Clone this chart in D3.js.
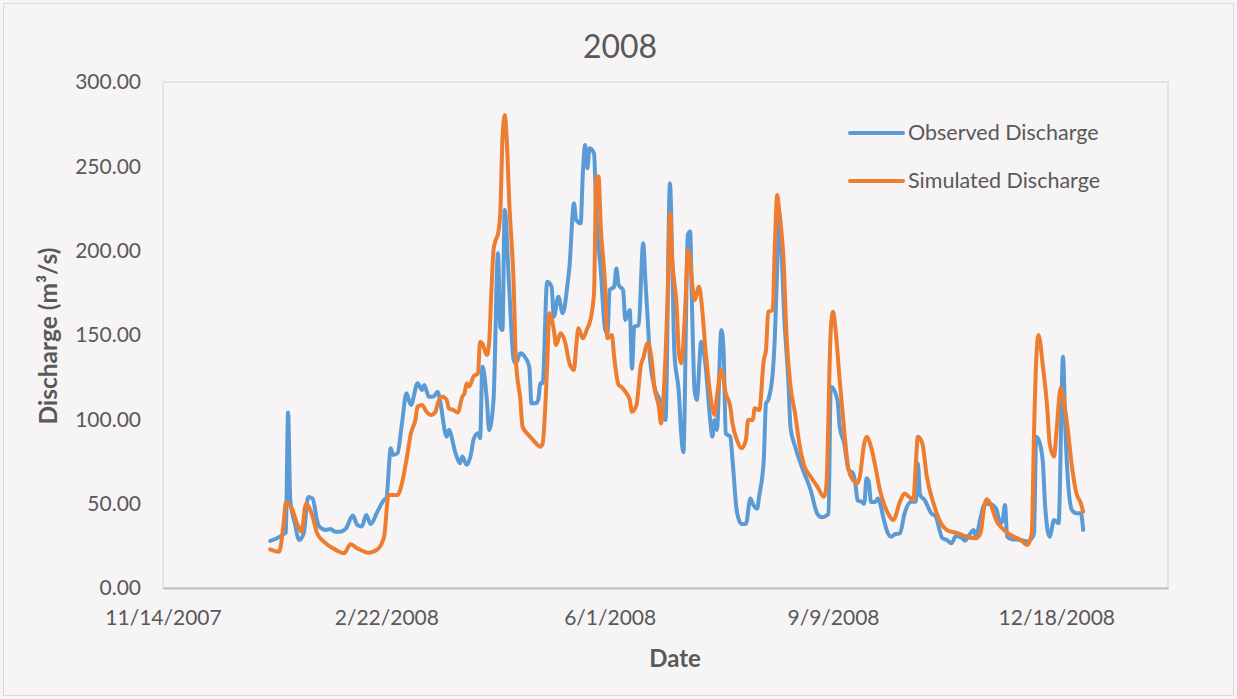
<!DOCTYPE html>
<html>
<head>
<meta charset="utf-8">
<script src="https://cdn.jsdelivr.net/npm/d3@7"></script>
<style>
  html, body { margin: 0; padding: 0; background: #f6f4f5; }
  svg { display: block; font-family: Lato, "Open Sans", sans-serif; }
</style>
</head>
<body>
<svg id="chart" width="1237" height="699"></svg>
<script>
// Daily discharge, 2008 — day of year and value (m³/s)
const obsDays = [1,4,7,8,9,10,12,14,16,18,20,22,23,26,28,30,32,35,37,38,40,42,44,46,49,52,53,55,56,58,60,62,64,67,69,70,72,74,76,77,80,81,84,86,87,89,91,92,94,95,96,98,99,101,103,104,105,106,108,110,111,113,115,117,118,120,121,122,123,125,127,128,130,132,134,135,137,138,140,141,142,143,144,146,147,149,151,152,153,155,156,157,159,160,162,163,164,166,168,169,170,171,173,176,177,178,180,181,182,184,185,186,188,189,190,191,192,194,196,198,199,200,201,203,204,205,207,208,210,212,214,216,217,219,220,222,223,224,226,227,228,229,230,231,233,234,236,239,243,246,248,251,252,255,256,258,260,262,263,264,266,267,268,269,270,272,273,276,277,279,281,283,285,288,290,291,292,294,297,299,302,304,306,308,311,312,314,316,317,319,321,323,326,328,329,330,331,333,337,340,342,343,344,346,347,348,350,352,353,354,356,357,358,360,362,364,365];
const obsValues = [27.9,29.5,32,33,104,52,38.5,28.5,32.4,54,53,40,36.4,34.4,35,33.4,33.4,35.4,41.3,43,37.4,36.4,43.3,37.9,45.2,52.2,53.2,82.8,78.9,79.9,97.6,115.4,108.5,121.4,117.4,120.4,113.4,113.4,116.4,111.5,89.7,93.7,79.9,74,78,73,80,87.7,91.7,88.8,131.2,111.5,93.7,111.5,198.4,154.9,153,224.1,178.6,135.2,133.2,139.2,137.1,131.2,109.5,109.5,111.5,121.4,121.4,181.6,178.6,160.9,172.7,162.9,178.6,190.5,228.1,218.2,216.2,245.9,262.7,248.8,260.7,257.7,222.2,188.5,153,151,176.7,178.6,189.5,179.7,176.7,158.9,164.8,130,154.9,155.9,204.4,182.6,160,137.1,119.4,109.5,103.6,99.6,240,194.5,139.2,115.4,91.7,80.5,209.3,211.3,160,117.4,111.5,146,131.2,99.6,89.7,99.6,93.7,153,141.1,91.7,89.7,75.9,45,38,38,53,50,47,55,76,109.5,111.5,127.3,150,190,222,200,165,123,95,84,72,58,44,42,44,119.4,111.5,95.6,85.8,70,68,62,52,51,50,65,63,51,51,53,39.3,34.4,30.4,32,32.4,44,51.2,51.2,73.9,55.1,52.2,44.3,42.3,29.5,28.5,26.5,30.8,29.5,28,31.4,34.4,30.4,41.3,49.8,49.8,47.2,38.4,40.3,49.2,30.4,28.9,28.5,27.5,29.5,32.4,89.7,83.8,73.9,48.2,30.4,40.3,39.3,38.4,137.1,95.6,68,46.2,44.3,44.3,34.4];

const simDays = [1,5,7,8,11,13,15,17,20,22,25,30,34,37,40,45,49,52,54,58,60,62,64,66,67,69,71,73,75,76,78,80,81,83,85,87,88,89,90,92,94,95,96,98,99,100,101,102,103,104,105,106,107,108,110,111,113,114,116,118,120,122,123,125,126,128,129,131,133,135,137,138,139,141,143,144,146,147,148,149,151,152,154,155,157,158,160,162,163,165,167,168,170,172,173,175,176,177,179,180,181,183,184,185,187,188,189,190,191,193,194,196,198,200,201,203,205,207,208,210,212,214,215,217,218,220,222,223,224,226,227,228,229,231,232,234,236,238,240,243,246,249,250,252,253,254,256,258,260,262,264,265,267,268,270,272,274,276,278,280,283,285,287,289,290,291,293,295,298,301,304,309,313,317,319,321,322,324,326,329,334,337,340,342,343,344,345,347,349,350,352,353,355,356,358,360,362,364,365];
const simValues = [22.9,21.5,38.4,50.6,46.2,38.4,33.4,49.8,42.3,32.4,27.5,22.9,20.6,25.9,23.5,20.9,22.9,30.4,55.1,55.1,62.1,75.9,91.7,99.6,107.5,108.5,104.5,102.6,104.5,109.5,113.4,111.5,106.5,105.5,104,113.4,115.4,121.4,119.4,125.3,127.3,146,145,138.1,145,174.7,200.4,206.3,210,222,266,280.4,263.6,230,180.6,135.2,111.5,95.6,91.7,88.8,85.8,83.8,85.8,131.2,162.9,153,144.1,151,146,133.2,129.3,143.1,154,148,154,157,174.7,243.9,244,214.2,178.6,148,150,137.1,120.4,119.4,116.4,111.5,104.5,108.5,132.2,136.2,145.1,133.2,119.4,107.5,97.6,111.5,174.7,222.2,194.5,166.8,139.2,133.2,170.8,200.4,195,180,170.8,178.6,170.8,140,115,102.6,113.4,129.3,115.4,107.5,97.6,87.7,82.8,87.7,99.6,99.6,106.5,105.5,135.2,141.1,163.8,164.8,204.4,233,222.2,190.5,154.9,119.4,103.6,85,73,66,60.1,54.1,60.1,153,163.8,154.9,123.3,93.7,70,64,62.1,66,85.8,89.7,83.8,71.9,58.1,49.2,43.3,40.3,51.2,56.1,54.1,52.2,71.9,89.7,85.8,66,50.2,39.3,34.4,32.4,30.4,29.5,32.4,50.2,52.6,48.2,40.3,35,30.4,28.5,25.5,32.4,91.7,135.2,150,131.2,105.5,85.8,77.9,91.7,118.4,113.4,95.6,71.9,56.1,50.2,45.2];

const seriesNames = ["Observed Discharge", "Simulated Discharge"];
const seriesColors = ["#5b9bd5", "#ed7d31"];
const xTickDates = ["2007-11-14", "2008-02-22", "2008-06-01", "2008-09-09", "2008-12-18"];
const yTicks = [0, 50, 100, 150, 200, 250, 300];
const xDomain = ["2007-11-14", "2009-02-06"];

const parse = d3.timeParse("%Y-%m-%d");
const dayToDate = d => d3.timeDay.offset(new Date(2008, 0, 1), d - 1);

const svg = d3.select("#chart");
const W = 1237, H = 699;
const plot = { left: 163, right: 1168, top: 82, bottom: 588 };

svg.append("rect").attr("x", 0).attr("y", 0).attr("width", W).attr("height", H).attr("fill", "#f6f4f5");
svg.append("rect").attr("x", 3.5).attr("y", 3.5).attr("width", W - 7).attr("height", H - 7)
  .attr("fill", "none").attr("stroke", "#d9d9d9").attr("stroke-width", 1);

const x = d3.scaleTime().domain(xDomain.map(parse)).range([plot.left, plot.right]);
const y = d3.scaleLinear().domain([0, 300]).range([plot.bottom, plot.top]);

// plot area frame
svg.append("rect").attr("x", plot.left).attr("y", plot.top)
  .attr("width", plot.right - plot.left).attr("height", plot.bottom - plot.top)
  .attr("fill", "#f6f4f5").attr("stroke", "#d9d9d9").attr("stroke-width", 1.2);

// axes
const xAxis = d3.axisBottom(x).tickValues(xTickDates.map(parse))
  .tickFormat(d3.timeFormat("%-m/%-d/%Y")).tickSize(0).tickPadding(22);
const gx = svg.append("g").attr("transform", `translate(0,${plot.bottom})`).call(xAxis);
gx.select(".domain").attr("stroke", "#bfbfbf").attr("stroke-width", 2);
gx.selectAll("text").attr("font-size", 21).attr("fill", "#595959").attr("font-family", "Lato, sans-serif");

const yAxis = d3.axisLeft(y).tickValues(yTicks).tickFormat(d3.format(".2f")).tickSize(0).tickPadding(22);
const gy = svg.append("g").attr("transform", `translate(${plot.left},0)`).call(yAxis);
gy.select(".domain").remove();
gy.selectAll("text").attr("font-size", 21).attr("fill", "#595959").attr("font-family", "Lato, sans-serif");

// series lines
const line = d3.line().x(d => x(d.date)).y(d => y(d.value)).curve(d3.curveMonotoneX);
const series = [
  obsDays.map((d, i) => ({ date: dayToDate(d), value: obsValues[i] })),
  simDays.map((d, i) => ({ date: dayToDate(d), value: simValues[i] }))
];
series.forEach((s, i) => {
  svg.append("path").datum(s).attr("d", line).attr("fill", "none")
    .attr("stroke", seriesColors[i]).attr("stroke-width", 4)
    .attr("stroke-linejoin", "round").attr("stroke-linecap", "round");
});

// title
svg.append("text").attr("x", 620).attr("y", 58).attr("text-anchor", "middle")
  .attr("font-size", 32).attr("fill", "#595959").text("2008");

// axis titles
svg.append("text").attr("x", 675).attr("y", 667).attr("text-anchor", "middle")
  .attr("font-size", 24).attr("font-weight", "bold").attr("fill", "#595959").text("Date");
svg.append("text").attr("transform", "translate(57,336) rotate(-90)").attr("text-anchor", "middle")
  .attr("font-size", 24.5).attr("font-weight", "bold").attr("fill", "#595959").text("Discharge (m³/s)");

// legend
const legend = svg.append("g");
seriesNames.forEach((name, i) => {
  const ly = 133 + i * 48;
  legend.append("line").attr("x1", 850).attr("x2", 903).attr("y1", ly).attr("y2", ly)
    .attr("stroke", seriesColors[i]).attr("stroke-width", 4).attr("stroke-linecap", "round");
  legend.append("text").attr("x", 908).attr("y", ly + 7).attr("font-size", 21.5)
    .attr("fill", "#595959").text(name);
});
</script>
</body>
</html>
